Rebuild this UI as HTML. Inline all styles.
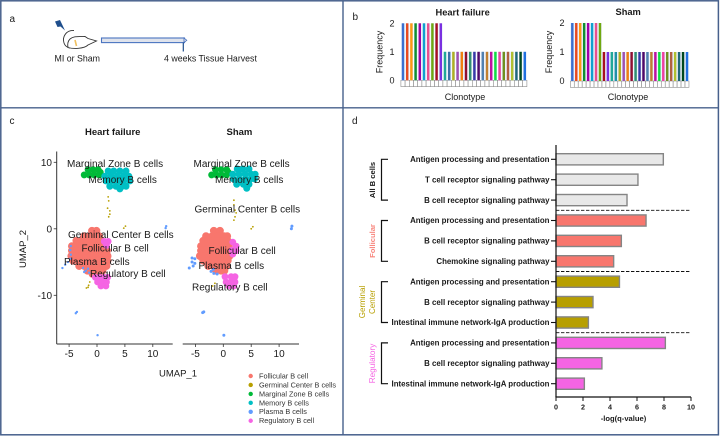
<!DOCTYPE html>
<html lang="en">
<head>
<meta charset="utf-8">
<title>B cell figure</title>
<style>
html,body{margin:0;padding:0;background:#fff;width:720px;height:436px;overflow:hidden}
svg{display:block}
text{font-family:"Liberation Sans",Arial,sans-serif;fill:#1a1a1a}
.b{font-weight:bold}
</style>
</head>
<body>
<svg id="fig" xmlns="http://www.w3.org/2000/svg" width="720" height="436" viewBox="0 0 720 436">
<rect x="0" y="0" width="720" height="436" fill="#fff"/>
<g id="panel-a">
<text x="9.5" y="22" font-size="10">a</text>
<polygon points="55,21.5 60,20 65,30.5 60.5,26.5 57.5,27" fill="#1f4e8c"/>
<g fill="none" stroke="#333" stroke-width="0.9">
<path d="M74,30.5 C66,30 62,37 64,43 C65,46 67,47.5 70,48"/>
<path d="M68,47.5 C73,49 84,49 88,45 L96.5,41 L88,38.5 L85,36.5 C80,37 74,35.5 70,39 C67.5,41.5 67.5,45 68,47.5 Z" fill="#fff"/>
<path d="M75,40 L76.5,46" stroke="#f0c060" stroke-width="1.6"/>
</g>
<rect x="101.5" y="38" width="83" height="4.6" fill="#dfe3ec" stroke="#4a74c0" stroke-width="1.1"/>
<polygon points="184,38 186.8,40.3 184,42.6" fill="#dfe3ec" stroke="#4a74c0" stroke-width="0.8"/>
<line x1="183.3" y1="42.6" x2="183.3" y2="51.5" stroke="#1f4e8c" stroke-width="1.2"/>
<text x="54.5" y="61.5" font-size="8.8">MI or Sham</text>
<text x="164" y="61.5" font-size="8.8">4 weeks Tissue Harvest</text>
</g>
<g id="panel-b">
<text x="352.5" y="20" font-size="10">b</text>
<text class="b" x="435.5" y="15.5" font-size="9.3">Heart failure</text>
<text class="b" x="615.5" y="15" font-size="9.3">Sham</text>
<text transform="translate(382.5,52) rotate(-90)" text-anchor="middle" font-size="9">Frequency</text>
<text transform="translate(552,52) rotate(-90)" text-anchor="middle" font-size="9">Frequency</text>
<text x="465" y="100" text-anchor="middle" font-size="9">Clonotype</text>
<text x="628" y="100" text-anchor="middle" font-size="9">Clonotype</text>
<g id="clono-hf"></g>
<g id="clono-sham"></g>
</g>
<g id="panel-c">
<text x="9.5" y="124" font-size="10">c</text>
<text class="b" x="85" y="135" font-size="9.5">Heart failure</text>
<text class="b" x="226.5" y="135" font-size="9.5">Sham</text>
<g id="umap-hf"></g>
<g id="umap-sham"></g>
<text transform="translate(26,249) rotate(-90)" text-anchor="middle" font-size="9.5">UMAP_2</text>
<text x="178" y="376.5" text-anchor="middle" font-size="9.5">UMAP_1</text>
<g font-size="10">
<text x="67" y="167">Marginal Zone B cells</text>
<text x="88.5" y="183">Memory B cells</text>
<text x="68" y="238">Germinal Center B cells</text>
<text x="81.5" y="251.5">Follicular B cell</text>
<text x="64" y="265">Plasma B cells</text>
<text x="90" y="277">Regulatory B cell</text>
</g>
<g font-size="10">
<text x="193.5" y="167">Marginal Zone B cells</text>
<text x="215" y="183">Memory B cells</text>
<text x="194.5" y="212.5">Germinal Center B cells</text>
<text x="208.5" y="254">Follicular B cell</text>
<text x="198.5" y="269">Plasma B cells</text>
<text x="192" y="290.5">Regulatory B cell</text>
</g>
<g id="umap-legend"></g>
</g>
<g id="panel-d">
<text x="352" y="124" font-size="10">d</text>
<g id="enrich"></g>
<text class="b" x="623.5" y="421" text-anchor="middle" font-size="7.6">-log(q-value)</text>
<text class="b" transform="translate(375,180) rotate(-90)" text-anchor="middle" font-size="7.6">All B cells</text>
<text transform="translate(375,241) rotate(-90)" text-anchor="middle" font-size="7.6" font-weight="bold" style="fill:#f8867d">Follicular</text>
<text transform="translate(365,302) rotate(-90)" text-anchor="middle" font-size="8" style="fill:#b79f00">Germinal</text>
<text transform="translate(375,302) rotate(-90)" text-anchor="middle" font-size="8" style="fill:#b79f00">Center</text>
<text transform="translate(375,363.5) rotate(-90)" text-anchor="middle" font-size="8.2" style="fill:#f564e3">Regulatory</text>
</g>
<g fill="none" stroke="#47608c">
<rect x="0.8" y="0.8" width="717.6" height="434" stroke-width="1.5"/>
<line x1="1" y1="107.8" x2="718" y2="107.8" stroke-width="1.4"/>
<line x1="343" y1="1" x2="343" y2="435" stroke-width="1.4"/>
</g>
</svg>
<script>
// ---------- Panel b data ----------
const hfFrequency = [2,2,2,2,2,2,2,2,2,2,1,1,1,1,1,1,1,1,1,1,1,1,1,1,1,1,1,1,1,1];
const shamFrequency = [2,2,2,2,2,2,2,2,1,1,1,1,1,1,1,1,1,1,1,1,1,1,1,1,1,1,1,1,1,1];
const frequencyTicks = [0,1,2];
const clonotypeColors = ["#3a6fd0","#e84a20","#ff9a10","#109030","#a000a8","#10a0d0","#e85090","#70a810","#a81020","#7a30e0","#20a898","#3a70a8","#b0b020","#a050b0","#f08010","#901030","#309070","#3838a8","#500868","#5080b0","#c08030","#c010a0","#10e040","#f040a0","#709020","#b06040","#b0c030","#206878","#004820","#2070e0"];
const shamColors = ["#3a6fd0","#e84a20","#ff9a10","#109030","#a000a8","#10a0d0","#e85090","#70a810","#a81020","#7a30e0","#20a898","#2090a8","#b0b020","#a050b0","#f08010","#901030","#309070","#3838a8","#500868","#5080b0","#c08030","#c010a0","#10e040","#f040a0","#709020","#b06040","#b0c030","#206878","#004820","#2070e0"];

// ---------- Panel c data (UMAP_1, UMAP_2) ----------
const umapXTicks = [-5,0,5,10];
const umapYTicks = [10,0,-10];
const clusterNames = ["Follicular B cell","Germinal Center B cells","Marginal Zone B cells","Memory B cells","Plasma B cells","Regulatory B cell"];
const hfFollicular = [[-0.9,-0.3],[-0.1,-0.3],[-2.3,-1.1],[-1.4,-1.1],[-0.5,-1.1],[0.4,-1.1],[-3.7,-1.8],[-2.8,-1.8],[-1.9,-1.8],[-1,-1.8],[-0.1,-1.8],[0.8,-1.8],[-4.5,-2.6],[-3.6,-2.6],[-2.7,-2.6],[-1.8,-2.6],[-0.9,-2.6],[0,-2.6],[0.9,-2.6],[1.5,-2.6],[-4.5,-3.3],[-3.6,-3.3],[-2.7,-3.3],[-1.8,-3.3],[-0.9,-3.3],[0,-3.3],[0.9,-3.3],[1.8,-3.3],[-4.6,-4.1],[-3.7,-4.1],[-2.8,-4.1],[-1.9,-4.1],[-1,-4.1],[-0.1,-4.1],[0.8,-4.1],[1.7,-4.1],[1.9,-4.1],[-4.3,-4.8],[-3.4,-4.8],[-2.5,-4.8],[-1.6,-4.8],[-0.7,-4.8],[0.2,-4.8],[1.1,-4.8],[1.9,-4.8],[-3.2,-5.6],[-2.3,-5.6],[-1.4,-5.6],[-0.5,-5.6],[0.4,-5.6],[1.3,-5.6],[1.7,-5.6],[-1.7,-6.3],[-0.8,-6.3],[0.1,-6.3],[1,-6.3],[-0.8,-6.8],[0,-6.8]];
const hfRegulatory = [[-0.3,-7.3],[0.5,-7.3],[1.3,-7.3],[1.9,-7.3],[0.1,-8],[0.9,-8],[1.7,-8],[0.7,-8.6],[1.6,-8.6],[1.3,-1.9],[2,-1.9],[1.7,-2.5]];
const hfMarginal = [[-1.6,8.9],[-0.7,8.9],[0.2,8.9],[-2.3,8.1],[-1.4,8.1],[-0.5,8.1],[0.4,8.1],[0.6,8.5]];
const hfMemory = [[2,8.7],[3,8.7],[4.1,8.7],[5.2,8.7],[1.4,7.9],[2.5,7.9],[3.6,7.9],[4.7,7.9],[5.7,7.9],[1.6,7.2],[2.7,7.2],[3.8,7.2],[4.8,7.2],[5.9,7.2],[2.3,6.4],[3.4,6.4],[4.5,6.4],[5.2,6.4],[4.1,6]];
const hfPlasma = [[-6.2,-5.9],[-5.7,-5.4],[-5.2,-5],[-4.8,-4.5],[-4.7,-3.9],[-4.8,-3.2],[-4.7,-2.6],[-2.5,-5.9],[-2,-6.3],[-1.4,-6.6],[-2.3,-6.5],[-1.6,-6],[-3.6,-12.5],[-3.8,-12.7],[0.1,-16],[12.4,0.4],[12.3,0.1]];
const hfGerminal = [[2,4.8],[2.1,4.2],[1.9,3.1],[2.3,2.7],[2.3,2.2],[2.1,1.8],[5.1,0.4],[4.8,0.1],[-1.3,-8],[-1.5,-8.5],[-1.6,-8.8],[-1.9,-8.9]];
const shamFollicular = [[-1.7,-0.3],[-0.6,-0.3],[-3.1,-1.1],[-2,-1.1],[-0.9,-1.1],[0.1,-1.1],[0.7,-1.1],[-3.6,-1.8],[-2.7,-1.8],[-1.8,-1.8],[-0.9,-1.8],[0,-1.8],[0.8,-1.8],[-4,-2.6],[-3.1,-2.6],[-2.2,-2.6],[-1.3,-2.6],[-0.4,-2.6],[0.5,-2.6],[1,-2.6],[-4,-3.3],[-3.1,-3.3],[-2.2,-3.3],[-1.3,-3.3],[-0.4,-3.3],[0.5,-3.3],[1.1,-3.3],[-4.2,-4.1],[-3.3,-4.1],[-2.4,-4.1],[-1.5,-4.1],[-0.6,-4.1],[0.3,-4.1],[1.1,-4.1],[-3.6,-4.8],[-2.7,-4.8],[-1.8,-4.8],[-0.9,-4.8],[0,-4.8],[0.8,-4.8],[-2.7,-5.6],[-1.8,-5.6],[-0.9,-5.6],[0,-5.6],[0.6,-5.6],[-1.3,-6.3],[-0.4,-6.3],[0.2,-6.3]];
const shamRegulatory = [[0.3,-7.2],[1.4,-7.2],[2.1,-7.2],[0.5,-8],[1.4,-8],[2.1,-8],[1,-8.6],[1.9,-8.6],[1.7,-2],[2.3,-2.6],[1.6,-3.2],[2.3,-3.3],[1.7,-3.8]];
const shamMarginal = [[-1.4,8.9],[-0.4,8.9],[0.6,8.9],[-2.1,8.1],[-1.2,8.1],[-0.3,8.1],[0.6,8.1],[0.9,8.5]];
const shamMemory = [[2.5,9],[3.5,9],[4.6,9],[1.7,8.2],[2.8,8.2],[3.9,8.2],[5,8.2],[5.7,8.2],[1.8,7.5],[2.9,7.5],[4,7.5],[4.9,7.5],[5.6,7.5],[2.4,6.7],[3.6,6.7],[4.6,6.7],[4.2,6.1]];
const shamPlasma = [[-5.6,-4.4],[-5.1,-4.5],[-5.6,-5],[-5.1,-5.2],[-5.4,-5.6],[-6.1,-5.9],[-2.2,-6.4],[-1.7,-6.7],[-1.1,-6.8],[-1.8,-6.1],[-3.5,-12.5],[-3.7,-12.6],[0.1,-16],[12.3,0.4],[12.2,0]];
const shamGerminal = [[1.9,4.3],[1.9,3.6],[2.1,2.8],[2.3,2.4],[2.1,1.8],[1.9,1.3],[5.3,0.3],[5,0],[-1.9,-8.6],[-1.5,-8.2]];

// ---------- Panel d data ----------
const pathwayLabels = ["Antigen processing and presentation","T cell receptor signaling pathway","B cell receptor signaling pathway","Antigen processing and presentation","B cell receptor signaling pathway","Chemokine signaling pathway","Antigen processing and presentation","B cell receptor signaling pathway","Intestinal immune network-IgA production","Antigen processing and presentation","B cell receptor signaling pathway","Intestinal immune network-IgA production"];
const qValues = [7.95,6.07,5.26,6.67,4.84,4.27,4.7,2.74,2.4,8.1,3.4,2.1];
const enrichTicks = [0,2,4,6,8,10];
const groupColors = ["#e8e8e8","#f8766d","#b79f00","#f564e3"];

const NS = "http://www.w3.org/2000/svg";
function make(tag, parent, props, txt){
  const el = document.createElementNS(NS, tag);
  for (const k in props) el.setAttribute(k, props[k]);
  if (txt !== undefined) el.textContent = txt;
  parent.appendChild(el);
  return el;
}

// ---------- Clonotype bars ----------
function drawClono(id, freq, colors, x0, step, yScale, baseY, labelX, prefix){
  const g = document.getElementById(id);
  const xs = i => x0 + i * step;
  freq.forEach((v, i) => {
    const cell = make("rect", g, {x:xs(i)-step/2, y:baseY, width:step, height:6.3, fill:"#fff", stroke:"#8a8a8a", "stroke-width":0.6});
    
    
    const halo = make("rect", g, {x:xs(i)-1.6, y:yScale(v), width:3.2, height:baseY-yScale(v), fill:"#d5e0f2"});
    
    
    const bar = make("rect", g, {x:xs(i)-1.2, y:yScale(v), width:2.4, height:baseY-yScale(v), fill:colors[i]});
    
    
  });
  frequencyTicks.forEach(t => {
    const lab = make("text", g, {x:labelX, y:yScale(t)+3.2, "text-anchor":"middle", "font-size":9}, String(t));
    
    
  });
}
const hfFreqY = v => 80.3 - v * 28.5;
const shamFreqY = v => 81 - v * 29;
drawClono("clono-hf", hfFrequency, clonotypeColors, 403, 4.2, hfFreqY, 80.3, 392, "hf");
drawClono("clono-sham", shamFrequency, shamColors, 572.3, 3.955, shamFreqY, 81, 562, "sham");

// ---------- UMAP ----------
const clusterColors = ["#f8766d","#b79f00","#00ba38","#00bfc4","#619cff","#f564e3"];
const umapY = v => 228.8 - v * 6.65;
function drawUmap(id, x0, prefix, sets, axisLeft, axisRight, hasYAxis){
  const g = document.getElementById(id);
  const umapX = v => x0 + v * 5.58;
  sets.forEach(s => {
    s.pts.forEach(p => {
      const c = make("circle", g, {cx:umapX(p[0]), cy:umapY(p[1]), r:s.r, fill:clusterColors[s.c]});
      
      
    });
  });
  const xa = make("line", g, {x1:axisLeft, y1:344, x2:axisRight, y2:344, stroke:"#333", "stroke-width":1});
  
  
  umapXTicks.forEach(t => {
    const tk = make("line", g, {x1:umapX(t), y1:344, x2:umapX(t), y2:347, stroke:"#333", "stroke-width":0.8});
    
    
    const lab = make("text", g, {x:umapX(t), y:357, "text-anchor":"middle", "font-size":10}, String(t));
    
    
  });
  if (hasYAxis){
    const ya = make("line", g, {x1:axisLeft, y1:151.5, x2:axisLeft, y2:344, stroke:"#333", "stroke-width":1});
    
    
    umapYTicks.forEach(t => {
      const tk = make("line", g, {x1:axisLeft-3, y1:umapY(t), x2:axisLeft, y2:umapY(t), stroke:"#333", "stroke-width":0.8});
      
      
      const lab = make("text", g, {x:52, y:umapY(t)+3.5, "text-anchor":"end", "font-size":10}, String(t));
      
      
    });
  }
}
drawUmap("umap-hf", 97, "hf", [
  {pts:hfFollicular, c:0, r:3.9},
  {pts:hfRegulatory, c:5, r:3.4},
  {pts:hfMarginal, c:2, r:3.4},
  {pts:hfMemory, c:3, r:3.5},
  {pts:hfPlasma, c:4, r:1.2},
  {pts:hfGerminal, c:1, r:0.9}
], 56.7, 172.7, true);
drawUmap("umap-sham", 223.3, "sham", [
  {pts:shamFollicular, c:0, r:3.9},
  {pts:shamRegulatory, c:5, r:3.4},
  {pts:shamMarginal, c:2, r:3.4},
  {pts:shamMemory, c:3, r:3.5},
  {pts:shamPlasma, c:4, r:1.5},
  {pts:shamGerminal, c:1, r:0.9}
], 182.7, 299, false);

const legend = document.getElementById("umap-legend");
clusterNames.forEach((name, i) => {
  const y = 376 + i * 8.95;
  const dot = make("circle", legend, {cx:250.7, cy:y, r:2.2, fill:clusterColors[i]});
  
  
  const lab = make("text", legend, {x:259, y:y+2.4, "font-size":7.3, style:"fill:#333"}, name);
  
  
});

// ---------- Enrichment bars ----------
const enrichG = document.getElementById("enrich");
const enrichX = v => 556 + v * 13.5;
const rowY = i => 159.3 + i * 20.4;
qValues.forEach((v, i) => {
  const group = Math.floor(i / 3);
  const bar = make("rect", enrichG, {x:enrichX(0), y:rowY(i)-5.6, width:enrichX(v)-enrichX(0), height:11.2, fill:groupColors[group], stroke:"#858585", "stroke-width":1.4});
  
  
  const tk = make("line", enrichG, {x1:551, y1:rowY(i), x2:556, y2:rowY(i), stroke:"#111", "stroke-width":1.1});
  
  
  const lab = make("text", enrichG, {x:549.5, y:rowY(i)+2.7, "text-anchor":"end", "font-size":7.9, class:"b"}, pathwayLabels[i]);
  
  
});
for (let k = 0; k < 4; k++){
  const t = rowY(k*3), b = rowY(k*3+2);
  const br = make("path", enrichG, {d:`M388,${t} H381.5 V${b} H388`, fill:"none", stroke:"#111", "stroke-width":1.2});
  
  
  if (k > 0){
    const sep = make("line", enrichG, {x1:556, y1:rowY(k*3)-10.2, x2:691, y2:rowY(k*3)-10.2, stroke:"#111", "stroke-width":0.9, "stroke-dasharray":"3.4 1.6"});
    
    
  }
}
const ey = make("line", enrichG, {x1:556, y1:145, x2:556, y2:397, stroke:"#111", "stroke-width":1.2});


const ex = make("line", enrichG, {x1:555.4, y1:397, x2:691, y2:397, stroke:"#111", "stroke-width":1.2});


enrichTicks.forEach(t => {
  const tk = make("line", enrichG, {x1:enrichX(t), y1:397, x2:enrichX(t), y2:401, stroke:"#111", "stroke-width":1});
  
  
  const lab = make("text", enrichG, {x:enrichX(t), y:409.5, "text-anchor":"middle", "font-size":7.2, class:"b"}, String(t));
  
  
});
</script>
</body>
</html>
